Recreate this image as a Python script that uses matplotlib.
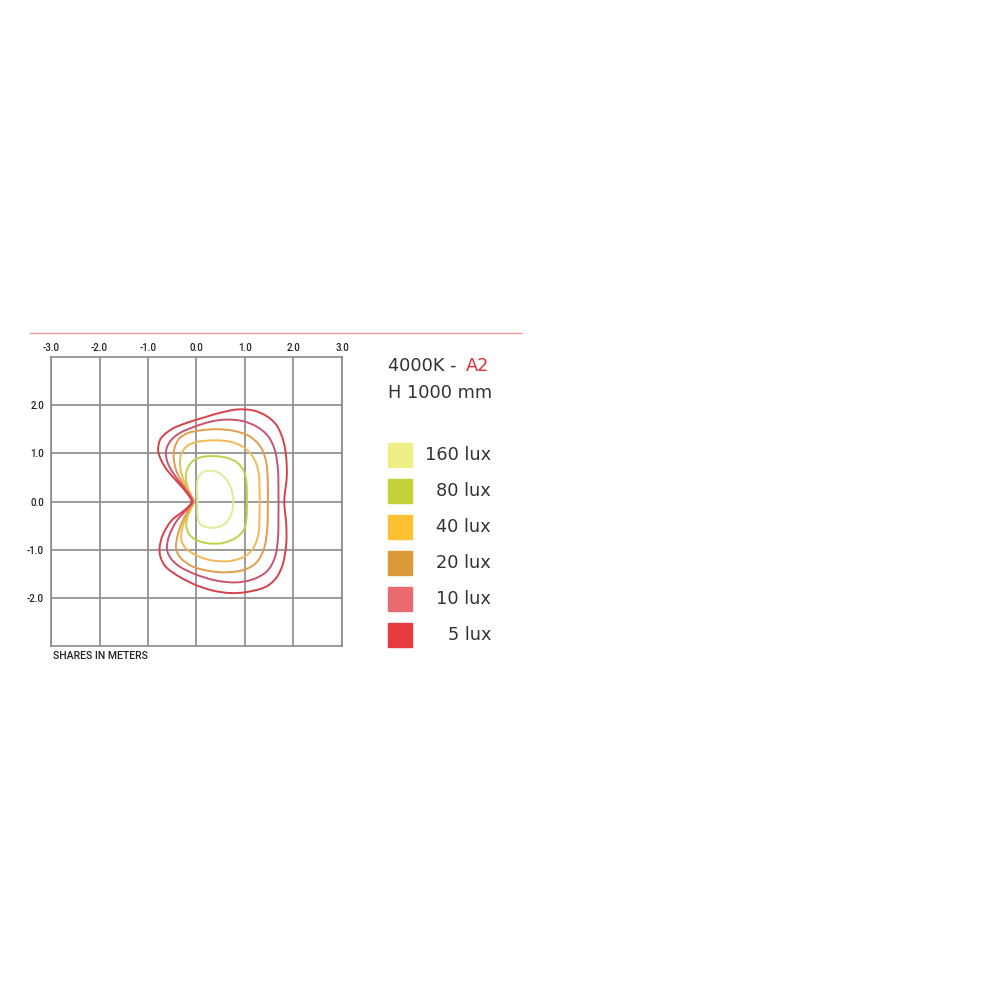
import numpy as np
import matplotlib
matplotlib.use("Agg")
import matplotlib.pyplot as plt
from matplotlib.path import Path
from matplotlib.patches import PathPatch, Rectangle

plt.rcParams['font.family'] = ['DejaVu Sans']

# isolux contours, metres (closed curves)
lux5_x = [-0.10, -0.21, -0.38, -0.59, -0.72, -0.79, -0.76, -0.66, -0.48, -0.21, 0.14, 0.48, 0.83, 1.17,
          1.45, 1.66, 1.79, 1.85, 1.86, 1.81, 1.85, 1.85, 1.78, 1.64, 1.41, 1.03, 0.69, 0.34, 0.00,
          -0.34, -0.62, -0.74, -0.76, -0.69, -0.52, -0.31, -0.17]
lux5_y = [0.01, 0.19, 0.39, 0.63, 0.84, 1.05, 1.26, 1.39, 1.52, 1.63, 1.74, 1.84, 1.91, 1.89,
          1.77, 1.57, 1.26, 0.91, 0.50, 0.01, -0.47, -0.88, -1.30, -1.59, -1.78, -1.88, -1.90, -1.85, -1.74,
          -1.57, -1.37, -1.16, -0.95, -0.68, -0.40, -0.23, -0.11]

lux10_x = [-0.08, -0.18, -0.33, -0.50, -0.60, -0.63, -0.60, -0.50, -0.33, -0.05, 0.30, 0.62, 0.95, 1.25,
           1.48, 1.62, 1.68, 1.69, 1.69, 1.68, 1.62, 1.45, 1.15, 0.80, 0.40, 0.00, -0.35, -0.55, -0.61,
           -0.56, -0.42, -0.25, -0.14]
lux10_y = [0.01, 0.18, 0.38, 0.62, 0.82, 1.00, 1.15, 1.30, 1.43, 1.55, 1.66, 1.70, 1.67, 1.55,
           1.35, 1.05, 0.65, 0.20, -0.30, -0.75, -1.15, -1.45, -1.62, -1.68, -1.64, -1.52, -1.35, -1.15, -0.95,
           -0.70, -0.42, -0.22, -0.10]

lux20_x = [-0.07, -0.16, -0.30, -0.42, -0.47, -0.45, -0.36, -0.18, 0.10, 0.45, 0.80, 1.10, 1.33, 1.44,
           1.47, 1.47, 1.46, 1.40, 1.25, 0.98, 0.60, 0.25, -0.08, -0.32, -0.42, -0.40, -0.32, -0.20, -0.12]
lux20_y = [0.01, 0.18, 0.40, 0.65, 0.90, 1.12, 1.30, 1.42, 1.48, 1.50, 1.46, 1.35, 1.12, 0.80,
           0.40, -0.10, -0.55, -0.95, -1.25, -1.42, -1.47, -1.44, -1.35, -1.18, -0.98, -0.75, -0.48, -0.24, -0.10]

lux40_x = [-0.06, -0.14, -0.25, -0.32, -0.34, -0.30, -0.18, 0.02, 0.35, 0.70, 0.98, 1.18, 1.28, 1.30,
           1.30, 1.28, 1.18, 0.98, 0.65, 0.30, 0.00, -0.22, -0.31, -0.30, -0.22, -0.14, -0.09]
lux40_y = [0.01, 0.18, 0.40, 0.62, 0.85, 1.02, 1.16, 1.24, 1.27, 1.24, 1.12, 0.90, 0.60, 0.20,
           -0.25, -0.65, -0.95, -1.15, -1.24, -1.22, -1.12, -0.97, -0.80, -0.58, -0.35, -0.18, -0.08]

lux80_x = [-0.05, -0.12, -0.20, -0.22, -0.17, -0.05, 0.15, 0.40, 0.65, 0.85, 0.98, 1.03, 1.04, 1.03,
           0.98, 0.82, 0.55, 0.25, 0.00, -0.15, -0.21, -0.18, -0.10]
lux80_y = [0.01, 0.15, 0.35, 0.55, 0.72, 0.86, 0.93, 0.94, 0.90, 0.80, 0.62, 0.40, 0.00, -0.35,
           -0.58, -0.75, -0.86, -0.87, -0.80, -0.68, -0.50, -0.30, -0.13]

lux160_x = [0.02, 0.01, 0.03, 0.12, 0.28, 0.45, 0.62, 0.72, 0.76, 0.72, 0.60, 0.40, 0.20, 0.06, 0.02]
lux160_y = [0.00, 0.30, 0.48, 0.60, 0.64, 0.60, 0.45, 0.25, 0.00, -0.25, -0.45, -0.54, -0.53, -0.45, -0.25]

legend_labels = ["160 lux", "80 lux", "40 lux", "20 lux", "10 lux", "5 lux"]
legend_colors = ["#EEEE84", "#C4D13A", "#FDC233", "#D99A3A", "#E96B70", "#E63B3E"]
line_colors = ["#E4E996", "#BBD24A", "#F2B957", "#E39C4C", "#C9536E", "#D8404A"]

x_ticks = [-3.0, -2.0, -1.0, 0.0, 1.0, 2.0, 3.0]
y_ticks = [-2.0, -1.0, 0.0, 1.0, 2.0]


def smooth_closed(xs, ys):
    # catmull-rom through the read points, drawn as cubic beziers
    p = np.column_stack([xs, ys])
    n = len(p)
    verts = [p[0]]
    codes = [Path.MOVETO]
    for i in range(n):
        p0, p1, p2, p3 = p[i - 1], p[i], p[(i + 1) % n], p[(i + 2) % n]
        verts += [p1 + (p2 - p0) / 6, p2 - (p3 - p1) / 6, p2]
        codes += [Path.CURVE4] * 3
    return Path(verts, codes)


fig = plt.figure(figsize=(10, 10), dpi=100)
ax = fig.add_axes([0.051, 0.354, 0.291, 0.289])

contours = [(lux160_x, lux160_y), (lux80_x, lux80_y), (lux40_x, lux40_y),
            (lux20_x, lux20_y), (lux10_x, lux10_y), (lux5_x, lux5_y)]
for (cx, cy), col in zip(contours, line_colors):
    ax.add_patch(PathPatch(smooth_closed(cx, cy), fill=False, edgecolor=col, lw=1.4, zorder=3))

ax.set_xlim(-3, 3)
ax.set_ylim(-3, 3)
ax.set_xticks(x_ticks)
ax.set_yticks(y_ticks)
ax.set_xticklabels([f"{t:.1f}" for t in x_ticks])
ax.set_yticklabels([f"{t:.1f}" for t in y_ticks])
ax.xaxis.tick_top()
ax.tick_params(length=0, labelsize=7, colors="#222222")
ax.tick_params(axis="x", pad=3)
ax.tick_params(axis="y", pad=5)
for lab in ax.get_xticklabels() + ax.get_yticklabels():
    lab.set_family("Roboto")
    lab.set_fontweight("medium")
ax.grid(True, color="#8a8a8a", lw=1.2)
for s in ax.spines.values():
    s.set_color("#8a8a8a")
    s.set_linewidth(1.2)

fig.text(0.053, 0.344, "SHARES IN METERS", fontsize=7.6, color="#222222", va="center",
         family="Roboto", fontweight="medium")

# thin red rule across the top
fig.add_artist(plt.Line2D([0.030, 0.522], [0.667, 0.667], color="#F29A9A", lw=1.0))

fig.text(0.388, 0.634, "4000K -", fontsize=12.8, color="#333333", va="center")
fig.text(0.466, 0.634, "A2", fontsize=12.8, color="#D9303A", va="center")
fig.text(0.388, 0.607, "H 1000 mm", fontsize=12.8, color="#333333", va="center")

for i, (lab, col) in enumerate(zip(legend_labels, legend_colors)):
    yc = 0.545 - i * 0.036
    fig.add_artist(Rectangle((0.388, yc - 0.012), 0.024, 0.024, color=col, transform=fig.transFigure))
    fig.text(0.491, yc, lab, fontsize=12.8, color="#333333", va="center", ha="right")

fig.savefig("out.png", dpi=100, facecolor="white")
